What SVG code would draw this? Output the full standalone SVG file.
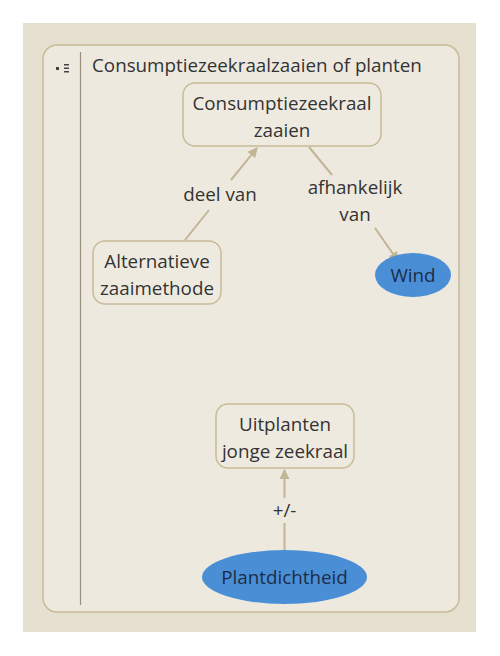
<svg xmlns="http://www.w3.org/2000/svg" width="500" height="656" viewBox="0 0 500 656">
<style>
text{font-family:"Open Sans","Noto Sans","DejaVu Sans",sans-serif;font-size:18.8px;fill:#333;text-anchor:middle}
.box{fill:#efeae0;stroke:#c8bb98;stroke-width:1.5}
.ell{fill:#4a8fd6;stroke:none}
.ell-t{fill:#1c2c48}
.edge{stroke:#c2b594;stroke-width:2;fill:none}
</style>
<defs>
<marker id="arr" viewBox="0 0 10 10" refX="9" refY="5" markerWidth="5" markerHeight="5" orient="auto" markerUnits="strokeWidth">
<path d="M0,0L10,5L0,10z" fill="#c2b594"/>
</marker>
</defs>
<rect x="0" y="0" width="500" height="656" fill="#ffffff"/>
<rect x="23" y="23" width="453" height="609" fill="#e6e0d0"/>
<g id="container">
<rect x="43" y="45" width="416" height="567" rx="14" fill="#eee9df" stroke="#c8bb98" stroke-width="1.5"/>
<line x1="80.5" y1="52" x2="80.5" y2="605" stroke="#9a9080" stroke-width="1.2"/>
<rect x="56" y="67" width="3" height="3" fill="#444"/>
<rect x="64" y="64" width="5" height="1.5" fill="#444"/>
<rect x="64" y="67.5" width="5" height="1.5" fill="#444"/>
<rect x="64" y="71" width="5" height="1.5" fill="#444"/>
<text x="92" y="72" style="text-anchor:start">Consumptiezeekraalzaaien of planten</text>
</g>
<g id="connectors">
<line class="edge" x1="185" y1="240" x2="209" y2="210"/>
<line class="edge" x1="231" y1="180" x2="257" y2="148" marker-end="url(#arr)"/>
<text x="220" y="201">deel van</text>
<line class="edge" x1="309" y1="147" x2="332" y2="175"/>
<line class="edge" x1="375" y1="228" x2="398" y2="261" marker-end="url(#arr)"/>
<text x="355" y="194">afhankelijk</text>
<text x="355" y="221">van</text>
<line class="edge" x1="284.5" y1="550" x2="284.5" y2="523"/>
<line class="edge" x1="284.5" y1="498" x2="284.5" y2="470" marker-end="url(#arr)"/>
<text x="284.5" y="517">+/-</text>
</g>
<g id="n1">
<rect class="box" x="183" y="83" width="198" height="63" rx="12"/>
<text x="282" y="110">Consumptiezeekraal</text>
<text x="282" y="137">zaaien</text>
</g>
<g id="n2">
<rect class="box" x="93" y="241" width="128" height="63" rx="12"/>
<text x="157" y="268">Alternatieve</text>
<text x="157" y="295">zaaimethode</text>
</g>
<g id="n3">
<ellipse class="ell" cx="413" cy="275" rx="38" ry="22"/>
<text class="ell-t" x="413" y="282">Wind</text>
</g>
<g id="n4">
<rect class="box" x="216" y="404" width="138" height="64" rx="12"/>
<text x="285" y="431">Uitplanten</text>
<text x="285" y="458">jonge zeekraal</text>
</g>
<g id="n5">
<ellipse class="ell" cx="284.5" cy="577" rx="82.5" ry="27"/>
<text class="ell-t" x="284.5" y="584">Plantdichtheid</text>
</g>
</svg>
